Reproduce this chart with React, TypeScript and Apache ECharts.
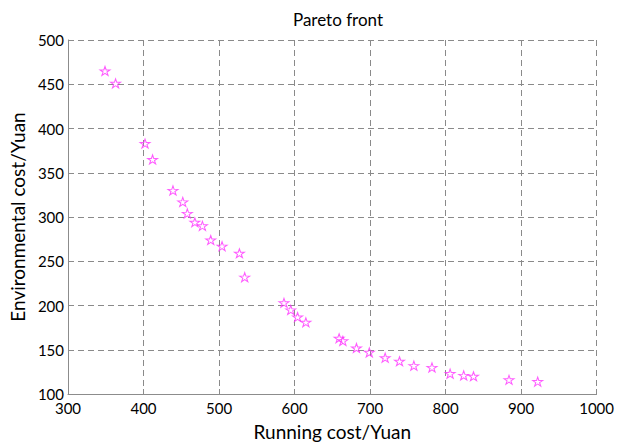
import React, { useEffect, useRef } from "react";
import * as echarts from "echarts";

const runningCost: number[] = [349, 363, 402, 412, 439, 452, 458, 468, 478, 489, 504, 527, 534, 586, 595, 604, 615, 659, 664, 682, 699, 720, 739, 758, 782, 806, 824, 837, 884, 922];
const environmentalCost: number[] = [465, 451, 383, 365, 330, 317, 304, 294, 290, 274, 267, 259, 232, 203, 195, 187, 181, 163, 160, 152, 147, 141, 137, 132, 130, 123, 121, 120, 116, 114];

const STAR = "path://M0,-100 L22.45,-30.9 L95.1,-30.9 L36.3,11.8 L58.8,80.9 L0,38.2 L-58.8,80.9 L-36.3,11.8 L-95.1,-30.9 L-22.45,-30.9 Z";
const FONT = "Lato";

export default function App() {
  const ref = useRef<HTMLDivElement>(null);
  useEffect(() => {
    if (!ref.current) return;
    const chart = echarts.init(ref.current, null, { renderer: "svg" });
    const data = runningCost.map((x, i) => [x, environmentalCost[i]]);
    const gridLine = { show: true, lineStyle: { color: "#8a8a8a", type: [6, 4] as any, width: 1 } };
    chart.setOption({
      animation: false,
      backgroundColor: "#ffffff",
      title: {
        text: "Pareto front",
        left: 333,
        textAlign: "center",
        top: 6,
        textStyle: { fontFamily: FONT, fontSize: 17, fontWeight: "normal", color: "#000" },
      },
      grid: { left: 61, right: 13.5, top: 40, bottom: 48.5 },
      xAxis: {
        type: "value",
        min: 300,
        max: 1000,
        interval: 100,
        name: "Running cost/Yuan",
        nameLocation: "middle",
        nameGap: 28,
        nameTextStyle: { fontFamily: FONT, fontSize: 19, color: "#000" },
        axisLine: { show: true, onZero: false, lineStyle: { color: "#8c8c8c", width: 1 } },
        axisTick: { show: true, inside: true, length: 5, lineStyle: { color: "#8c8c8c" } },
        axisLabel: { fontFamily: FONT, fontSize: 15, color: "#000", margin: 6, formatter: (v: number) => String(v) },
        splitLine: gridLine,
      },
      yAxis: {
        type: "value",
        min: 100,
        max: 500,
        interval: 50,
        name: "Environmental cost/Yuan",
        nameLocation: "middle",
        nameGap: 39,
        nameTextStyle: { fontFamily: FONT, fontSize: 19, color: "#000" },
        axisLine: { show: true, onZero: false, lineStyle: { color: "#8c8c8c", width: 1 } },
        axisTick: { show: true, inside: true, length: 5, lineStyle: { color: "#8c8c8c" } },
        axisLabel: { fontFamily: FONT, fontSize: 15, color: "#000", margin: 4, formatter: (v: number) => String(v) },
        splitLine: gridLine,
      },
      series: [
        {
          type: "scatter",
          data,
          symbol: STAR,
          symbolSize: [10, 9],
          itemStyle: { color: "rgba(0,0,0,0)", borderColor: "#ff33ff", borderWidth: 1 },
        },
      ],
    });
    return () => chart.dispose();
  }, []);
  return <div ref={ref} style={{ width: 617, height: 446, position: "absolute", left: 0, top: 0 }} />;
}
